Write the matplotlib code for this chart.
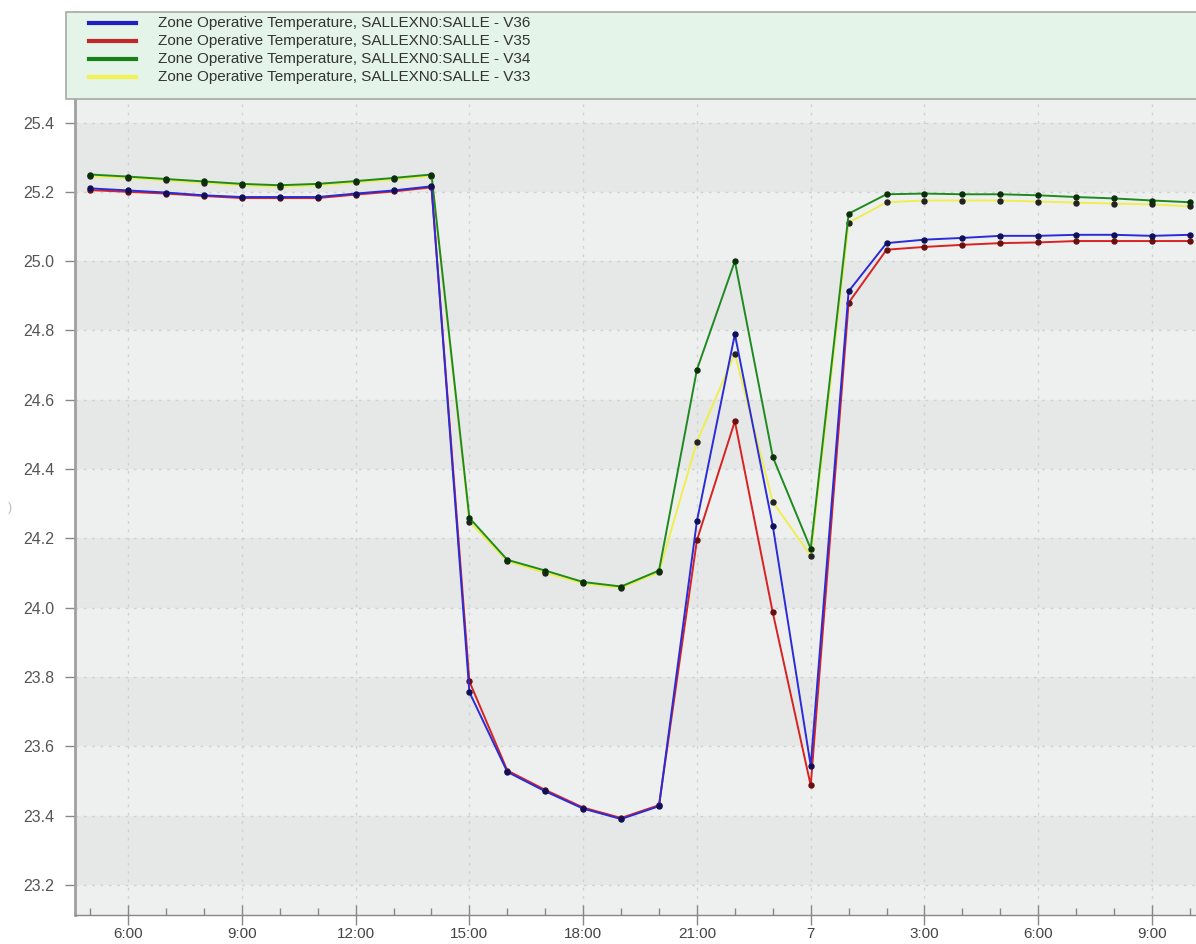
import matplotlib
matplotlib.use("Agg")
import matplotlib.pyplot as plt
from matplotlib.patches import Rectangle
from matplotlib.lines import Line2D
from matplotlib.ticker import FixedLocator, MultipleLocator

plt.rcParams['font.family'] = ['Liberation Sans', 'DejaVu Sans']

# hours counted from 0:00 of the first day
hours = list(range(5, 35))

v36 = [25.210, 25.204, 25.198, 25.190, 25.185, 25.185, 25.185, 25.195, 25.204, 25.216,
       23.756, 23.526, 23.470, 23.420, 23.390, 23.427, 24.250, 24.789, 24.236, 23.544,
       24.913, 25.052, 25.062, 25.067, 25.073, 25.073, 25.076, 25.076, 25.073, 25.076]
v35 = [25.205, 25.200, 25.195, 25.188, 25.182, 25.182, 25.182, 25.192, 25.201, 25.213,
       23.787, 23.530, 23.474, 23.423, 23.393, 23.430, 24.195, 24.538, 23.986, 23.487,
       24.880, 25.033, 25.041, 25.047, 25.052, 25.054, 25.058, 25.058, 25.058, 25.058]
v34 = [25.250, 25.244, 25.237, 25.230, 25.223, 25.219, 25.223, 25.231, 25.240, 25.250,
       24.259, 24.138, 24.107, 24.074, 24.061, 24.107, 24.687, 25.000, 24.435, 24.170,
       25.137, 25.193, 25.195, 25.193, 25.193, 25.190, 25.185, 25.181, 25.175, 25.170]
v33 = [25.245, 25.240, 25.233, 25.226, 25.219, 25.215, 25.219, 25.227, 25.236, 25.246,
       24.248, 24.134, 24.100, 24.070, 24.057, 24.102, 24.479, 24.733, 24.305, 24.150,
       25.111, 25.170, 25.175, 25.175, 25.175, 25.172, 25.169, 25.166, 25.164, 25.158]

series_names = ["Zone Operative Temperature, SALLEXN0:SALLE - V36",
                "Zone Operative Temperature, SALLEXN0:SALLE - V35",
                "Zone Operative Temperature, SALLEXN0:SALLE - V34",
                "Zone Operative Temperature, SALLEXN0:SALLE - V33"]

xtick_pos = [6, 9, 12, 15, 18, 21, 24, 27, 30, 33]
xtick_labels = ["6:00", "9:00", "12:00", "15:00", "18:00", "21:00", "7", "3:00", "6:00", "9:00"]
ytick_vals = [23.2, 23.4, 23.6, 23.8, 24.0, 24.2, 24.4, 24.6, 24.8, 25.0, 25.2, 25.4]

W, H = 1196, 944
fig = plt.figure(figsize=(W / 100, H / 100), dpi=100)
fig.patch.set_facecolor('white')
ax = fig.add_axes([75 / W, 29 / H, 1 - 75 / W, (915 - 12) / H])
ax.set_facecolor('#eef0f0')
ax.set_xlim(4.6, 34.16)
ax.set_ylim(23.113, 25.719)

# alternating bands
for i in range(0, len(ytick_vals) - 1, 2):
    ax.axhspan(ytick_vals[i], ytick_vals[i + 1], color='#e6e8e8', zorder=0, lw=0)

ax.grid(True, which='major', axis='both', linestyle=(0, (2, 4)), color='#d0d2d2', lw=1.0, zorder=0.5)

line_styles = [
    (v33, '#eeee50', '#222222'),
    (v34, '#1f8a1f', '#0a300a'),
    (v35, '#d82222', '#6a1010'),
    (v36, '#2b2bd8', '#101058'),
]
for vals, lc, mc in line_styles:
    ax.plot(hours, vals, color=lc, lw=1.4, marker='o', ms=3.6,
            mfc=mc, mec=mc, zorder=3)

ax.xaxis.set_major_locator(FixedLocator(xtick_pos))
ax.set_xticklabels(xtick_labels)
ax.xaxis.set_minor_locator(MultipleLocator(1))
ax.set_yticks(ytick_vals)
ax.set_yticklabels([f"{v:.1f}" for v in ytick_vals])

ax.tick_params(axis='x', which='major', direction='inout', length=14, width=1, color='#888888',
               labelsize=11, labelcolor='#444444', pad=2)
ax.tick_params(axis='x', which='minor', direction='in', length=5, width=1, color='#888888')
ax.tick_params(axis='y', which='major', direction='out', length=7, width=1, color='#888888',
               labelsize=11.5, labelcolor='#555555', pad=8)

for s in ['top', 'right']:
    ax.spines[s].set_visible(False)
ax.spines['left'].set_color('#a0a0a0')
ax.spines['left'].set_linewidth(2)
ax.spines['bottom'].set_color('#888888')
ax.spines['bottom'].set_linewidth(1)

# legend box (drawn in figure pixels)
def fx(px):
    return px / W

def fy(py):
    return 1 - py / H

fig.patches.append(Rectangle((fx(66), fy(99)), fx(1196) - fx(66) + 0.01, fy(12) - fy(99),
                             transform=fig.transFigure, facecolor='#e4f4e8',
                             edgecolor='#a8a8a8', lw=1.2, zorder=5))
legend_colors = ['#2020c0', '#c02828', '#188018', '#f2f250']
row_y = [23, 41, 59, 77]
for name, c, ry in zip(series_names, legend_colors, row_y):
    fig.lines.append(Line2D([fx(89), fx(136)], [fy(ry), fy(ry)], transform=fig.transFigure,
                            color=c, lw=3, zorder=6))
    fig.text(fx(158), fy(ry), name, fontsize=11, color='#333333', va='center', ha='left', zorder=6)

fig.text(fx(8), fy(508), ")", fontsize=9, color='#bbbbbb', va='center')

fig.savefig("out.png", dpi=100)
